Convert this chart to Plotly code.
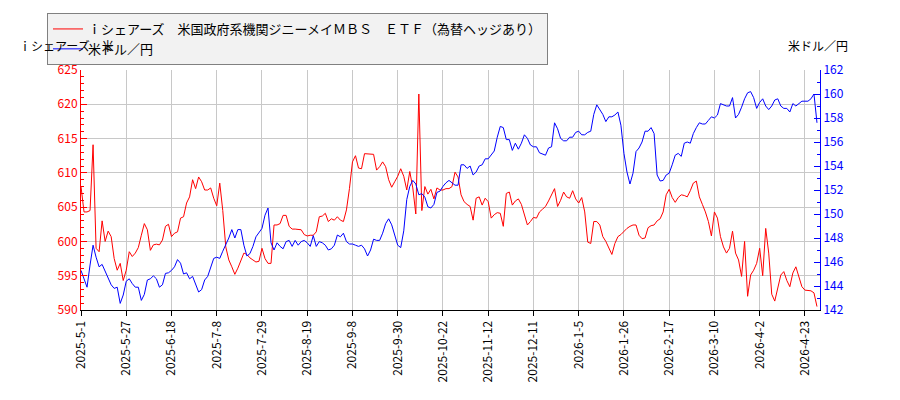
import plotly.graph_objects as go

# iシェアーズ 米国政府系機関ジニーメイMBS ETF (left axis)
etf = [608.0, 604.3, 604.3, 604.5, 614.1, 599.0, 598.5, 603.0, 600.0, 601.5, 600.7, 597.5, 595.8, 596.8, 594.3,
       595.8, 598.5, 597.8, 598.3, 599.1, 600.9, 602.6, 601.7, 598.7, 599.5, 599.6, 599.5, 600.2, 602.2, 602.5,
       600.7, 601.2, 601.4, 603.4, 603.6, 605.6, 606.5, 609.0, 607.7, 609.4, 608.7, 607.5, 607.5, 607.8, 606.3,
       605.2, 608.5, 604.5, 599.2, 597.3, 596.3, 595.2, 596.1, 597.3, 598.3, 598.1, 597.6, 597.3, 597.0, 597.1,
       599.0, 597.5, 596.8, 596.8, 602.4, 602.4, 602.6, 603.8, 603.8, 602.2, 601.8, 601.8, 601.8, 601.7, 601.0,
       600.8, 600.9, 600.9, 601.4, 603.6, 603.7, 604.1, 602.9, 603.3, 603.1, 603.6, 603.1, 602.9, 604.6, 607.7,
       611.6, 612.5, 610.7, 610.6, 612.8, 612.8, 612.8, 612.7, 610.4, 610.9, 611.6, 610.9, 609.0, 607.9, 608.7,
       609.5, 610.6, 609.5, 607.5, 610.2, 607.8, 604.0, 621.5, 604.5, 608.0, 606.9, 607.6, 606.2, 607.8, 607.5,
       607.5, 607.7, 607.7, 608.0, 610.1, 609.4, 606.8, 605.8, 605.4, 605.1, 603.1, 606.3, 606.5, 605.3, 606.3,
       605.8, 603.4, 603.9, 604.2, 604.1, 602.2, 607.0, 607.2, 605.3, 605.9, 606.2, 605.4, 604.0, 602.4, 602.9,
       603.5, 603.4, 604.3, 604.7, 605.1, 605.9, 606.7, 607.7, 605.1, 606.0, 607.2, 606.5, 606.3, 607.4, 606.2,
       605.6, 606.4, 604.3, 599.9, 599.7, 602.9, 602.9, 602.4, 600.7, 600.0, 599.0, 598.1, 599.7, 600.7, 601.0,
       601.5, 601.9, 602.2, 602.4, 602.4, 600.9, 600.4, 600.5, 602.0, 602.3, 602.4, 603.0, 603.3, 604.3, 606.8,
       607.6, 606.4, 605.7, 606.4, 606.8, 606.7, 606.5, 607.4, 608.5, 608.8, 606.5, 605.4, 604.3, 602.9, 600.8,
       604.3, 603.4, 600.7, 599.2, 598.3, 599.0, 601.5, 598.3, 597.3, 594.9, 600.0, 592.0, 595.1, 595.8, 596.8,
       599.0, 595.0, 601.9, 598.3, 592.3, 591.3, 593.0, 595.1, 595.6, 594.3, 593.4, 595.4, 596.3, 595.0, 593.4,
       592.9, 592.8, 592.8, 592.5, 590.5]

# 米ドル/円 (right axis)
usdjpy = [145.3, 144.6, 143.9, 145.75, 147.4, 146.4, 145.6, 145.8, 145.2, 144.6, 144.1, 143.8, 143.9, 142.55, 143.25,
          144.4, 144.6, 144.2, 143.9, 143.9, 142.8, 143.3, 144.5, 144.6, 144.85, 144.6, 143.9, 144.1, 145.05, 145.1,
          145.3, 145.6, 146.2, 145.9, 145.0, 145.1, 144.6, 144.8, 144.1, 143.5, 143.7, 144.5, 144.8, 145.6, 146.3,
          146.4, 146.3, 146.9, 147.4, 148.0, 148.7, 148.0, 148.7, 148.7, 147.4, 146.5, 146.7, 147.3, 148.1, 148.5,
          148.8, 149.9, 150.5, 147.6, 147.0, 147.6, 147.3, 147.1, 147.7, 147.8, 147.3, 147.8, 147.4, 147.7, 147.8,
          147.6, 147.3, 148.2, 147.3, 147.7, 147.6, 147.4, 147.0, 147.1, 147.4, 148.25, 148.1, 148.4, 147.7, 147.5,
          147.5, 147.4, 147.3, 147.4, 147.1, 146.5, 147.0, 147.9, 147.8, 147.8, 148.4, 149.2, 149.6, 149.1, 148.3,
          147.4, 147.2, 148.6, 151.2, 152.3, 152.8, 152.5, 151.6, 151.7, 151.4, 150.6, 150.5, 150.8, 151.8, 151.9,
          152.3, 152.6, 152.8, 152.6, 152.4, 152.4, 154.1, 154.1, 153.8, 154.0, 153.25, 153.5, 154.0, 154.1, 154.6,
          154.6, 154.9, 155.25, 156.4, 157.3, 157.2, 156.2, 156.2, 155.3, 155.9, 155.4, 155.9, 156.6, 156.3, 155.75,
          155.6, 155.6, 155.1, 155.0, 154.9, 155.5, 155.6, 157.6, 157.1, 156.3, 156.1, 156.1, 156.4, 156.4, 156.8,
          156.9, 156.6, 156.6, 156.8, 156.9, 158.3, 159.1, 158.75, 158.3, 157.7, 158.1, 158.1, 158.25, 158.5, 157.4,
          155.05, 153.5, 152.5, 153.4, 155.2, 155.5, 156.0, 156.9, 156.9, 157.2, 156.7, 153.25, 152.75, 152.8, 153.25,
          153.4, 154.1, 154.9, 155.05, 154.8, 155.9, 156.0, 155.9, 156.7, 157.2, 157.6, 157.5, 157.5, 157.8, 158.1,
          158.0, 158.25, 159.2, 159.1, 159.0, 159.0, 159.7, 158.0, 158.3, 158.9, 159.6, 160.1, 160.2, 159.7, 158.8,
          159.3, 159.6, 159.0, 158.7, 159.0, 159.5, 159.6, 159.0, 158.8, 158.8, 158.5, 159.2, 159.0, 159.2, 159.4,
          159.4, 159.4, 159.6, 160.0, 157.6]

# x軸ラベル (15営業日ごと)
dates = ["2025-5-1", "2025-5-27", "2025-6-18", "2025-7-8", "2025-7-29", "2025-8-19",
         "2025-9-8", "2025-9-30", "2025-10-22", "2025-11-12", "2025-12-11", "2026-1-5",
         "2026-1-26", "2026-2-17", "2026-3-10", "2026-4-2", "2026-4-23"]

etf_name = "ｉシェアーズ　米国政府系機関ジニーメイＭＢＳ　ＥＴＦ（為替ヘッジあり）"
fx_name = "米ドル／円"

font = "Noto Sans CJK JP"
grid = "#c8c8c8"

fig = go.Figure()
fig.add_trace(go.Scatter(x=list(range(len(etf))), y=etf, mode="lines", name=etf_name,
                         line=dict(color="#ff0000", width=1)))
fig.add_trace(go.Scatter(x=list(range(len(usdjpy))), y=usdjpy, mode="lines", name=fx_name,
                         line=dict(color="#0000ff", width=1), yaxis="y2"))

fig.update_layout(
    width=900, height=400,
    margin=dict(l=81, r=80, t=70, b=90, autoexpand=False),
    plot_bgcolor="white", paper_bgcolor="white",
    font=dict(family=font, size=12, color="black"),
    showlegend=True,
    legend=dict(x=-0.046, y=1.2375, xanchor="left", yanchor="top",
                bgcolor="#f2f2f2", bordercolor="#808080", borderwidth=1,
                font=dict(size=13), tracegroupgap=0),
    xaxis=dict(range=[0, 245], tickvals=[i * 15 for i in range(len(dates))], ticktext=dates,
               tickangle=-90, ticks="outside", ticklen=5, tickcolor="black", automargin=False,
               tickfont=dict(size=12), showline=True, linecolor="black", gridcolor=grid, zeroline=False),
    yaxis=dict(range=[590, 625], dtick=5, tickfont=dict(color="#ff0000", size=12), automargin=False,
               showline=True, linecolor="#ff0000", ticks="inside", ticklen=6, tickcolor="#ff0000",
               minor=dict(dtick=1, ticks="inside", ticklen=3, tickcolor="#ff0000", showgrid=False),
               gridcolor=grid, zeroline=False),
    yaxis2=dict(range=[142, 162], dtick=2, overlaying="y", side="right", automargin=False,
                tickfont=dict(color="#0000ff", size=12),
                showline=True, linecolor="#0000ff", ticks="inside", ticklen=6, tickcolor="#0000ff",
                minor=dict(dtick=1, ticks="inside", ticklen=3, tickcolor="#0000ff"),
                showgrid=False, zeroline=False),
    annotations=[
        dict(text="ｉシェアーズ　米", xref="paper", yref="paper", x=-0.087, y=1.104,
             xanchor="left", yanchor="middle", showarrow=False, font=dict(size=12)),
        dict(text=fx_name, xref="paper", yref="paper", x=1.041, y=1.104,
             xanchor="right", yanchor="middle", showarrow=False, font=dict(size=12)),
    ],
)

# ページ余白をなくして図を左上にそろえる
fig.write_html("out.html", config={"displayModeBar": False},
               post_script="document.body.style.margin='0';")
